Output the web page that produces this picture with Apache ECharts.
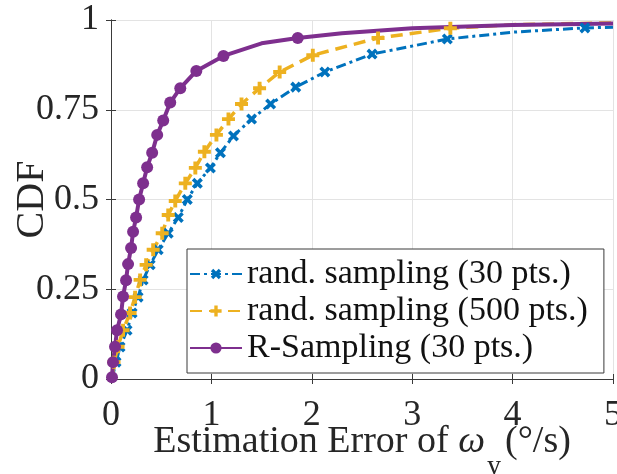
<!DOCTYPE html>
<html><head><meta charset="utf-8">
<script src="https://cdn.jsdelivr.net/npm/echarts@6/dist/echarts.min.js"></script>
<style>html,body{margin:0;padding:0;background:#fff}#c{width:617px;height:474px}</style>
</head><body><div id="c"></div>
<script>
// ---- data ----
const seriesNames = ['rand. sampling (30 pts.)', 'rand. sampling (500 pts.)', 'R-Sampling (30 pts.)'];
const xTickLabels = ['0', '1', '2', '3', '4', '5'];
const yTickLabels = ['0', '0.25', '0.5', '0.75', '1'];

// rand. sampling (30 pts.) — marked points
const rand30X = [0.05, 0.09, 0.16, 0.21, 0.27, 0.32, 0.39, 0.47, 0.57, 0.67, 0.76, 0.86, 0.99, 1.09, 1.22, 1.40, 1.59, 1.84, 2.13, 2.60, 3.35, 4.72];
const rand30Y = [0.047, 0.089, 0.136, 0.184, 0.228, 0.276, 0.318, 0.36, 0.406, 0.45, 0.50, 0.545, 0.588, 0.63, 0.677, 0.724, 0.766, 0.813, 0.855, 0.905, 0.947, 0.978];
// rand. sampling (30 pts.) — unmarked curve points
const rand30LineX = [0.01, 4.0, 5.0];
const rand30LineY = [0.0, 0.966, 0.98];

// rand. sampling (500 pts.) — marked points
const rand500X = [0.03, 0.07, 0.12, 0.19, 0.24, 0.29, 0.35, 0.42, 0.51, 0.57, 0.64, 0.74, 0.84, 0.93, 1.05, 1.17, 1.30, 1.48, 1.68, 2.01, 2.66, 3.38];
const rand500Y = [0.047, 0.09, 0.136, 0.184, 0.228, 0.276, 0.318, 0.36, 0.406, 0.457, 0.496, 0.545, 0.588, 0.633, 0.68, 0.724, 0.766, 0.81, 0.855, 0.902, 0.95, 0.977];
const rand500LineX = [0.01, 4.0, 5.0];
const rand500LineY = [0.0, 0.987, 0.992];

// R-Sampling (30 pts.) — marked points
const rsX = [0.01, 0.02, 0.04, 0.06, 0.10, 0.12, 0.15, 0.17, 0.20, 0.22, 0.25, 0.28, 0.32, 0.36, 0.41, 0.46, 0.52, 0.59, 0.69, 0.85, 1.12, 1.86];
const rsY = [0.005, 0.047, 0.09, 0.136, 0.18, 0.23, 0.275, 0.32, 0.365, 0.41, 0.45, 0.50, 0.545, 0.59, 0.63, 0.68, 0.72, 0.77, 0.81, 0.858, 0.90, 0.95];
const rsLineX = [1.5, 2.3, 3.0, 4.0, 5.0];
const rsLineY = [0.935, 0.963, 0.977, 0.986, 0.99];

// ---- build series data ----
function build(mx, my, lx, ly) {
  const pts = mx.map((x, i) => ({ x: x, v: { value: [x, my[i]] } }))
    .concat(lx.map((x, i) => ({ x: x, v: { value: [x, ly[i]], symbol: 'none' } })));
  pts.sort((a, b) => a.x - b.x);
  return pts.map(p => p.v);
}

const plusPath = 'path://M3.5,0H6.5V3.5H10V6.5H6.5V10H3.5V6.5H0V3.5H3.5Z';
const serif = 'Liberation Serif';
const txt = '#262626';

const chart = echarts.init(document.getElementById('c'), null, { renderer: 'canvas' });
chart.setOption({
  animation: false,
  backgroundColor: '#fff',
  grid: { left: 111, right: 4, top: 20, bottom: 95, containLabel: false, outerBoundsMode: 'none' },
  legend: {
    orient: 'vertical', left: 187, top: 249,
    itemWidth: 52, itemHeight: 14, itemGap: 3,
    padding: [8, 16, 8, 2],
    backgroundColor: '#fff', borderColor: '#3a3a3a', borderWidth: 1,
    textStyle: { fontFamily: serif, fontSize: 34, color: '#111' },
    data: seriesNames
  },
  xAxis: [{
    type: 'value', min: 0, max: 5, interval: 1,
    axisLine: { show: true, lineStyle: { color: '#3a3a3a', width: 1 } },
    axisTick: { show: true, inside: true, length: 5, lineStyle: { color: '#3a3a3a' } },
    splitLine: { show: true, lineStyle: { color: '#e3e3e3', width: 1 } },
    axisLabel: { fontFamily: serif, fontSize: 36, color: txt, margin: 19,
      formatter: v => xTickLabels[Math.round(v)] },
    name: '{t|Estimation Error of }{w|ω}{s|y}{t|(°/s)}',
    nameLocation: 'middle', nameGap: 44, nameMoveOverlap: false,
    nameTextStyle: {
      rich: {
        t: { fontFamily: serif, fontSize: 38, color: txt, verticalAlign: 'top' },
        w: { fontFamily: serif, fontSize: 38, color: txt, fontStyle: 'italic', verticalAlign: 'top' },
        s: { fontFamily: serif, fontSize: 28, color: txt, verticalAlign: 'top', padding: [30, 4, 0, 2] }
      }
    }
  }, {
    type: 'value', min: 0, max: 5, interval: 1, position: 'top',
    axisLine: { show: true, lineStyle: { color: '#3a3a3a', width: 1 } },
    axisTick: { show: true, inside: true, length: 5, lineStyle: { color: '#3a3a3a' } },
    axisLabel: { show: false }, splitLine: { show: false }
  }],
  yAxis: [{
    type: 'value', min: 0, max: 1, interval: 0.25,
    axisLine: { show: true, lineStyle: { color: '#3a3a3a', width: 1 } },
    axisTick: { show: true, inside: true, length: 5, lineStyle: { color: '#3a3a3a' } },
    splitLine: { show: true, lineStyle: { color: '#e3e3e3', width: 1 } },
    axisLabel: { fontFamily: serif, fontSize: 36, color: txt, margin: 12,
      formatter: v => yTickLabels[Math.round(v * 4)] },
    name: 'CDF', nameLocation: 'middle', nameGap: 59, nameMoveOverlap: false,
    nameTextStyle: { fontFamily: serif, fontSize: 40, color: txt }
  }, {
    type: 'value', min: 0, max: 1, interval: 0.25, position: 'right',
    axisLine: { show: true, lineStyle: { color: '#3a3a3a', width: 1 } },
    axisTick: { show: true, inside: true, length: 5, lineStyle: { color: '#3a3a3a' } },
    axisLabel: { show: false }, splitLine: { show: false }
  }],
  series: [{
    name: seriesNames[0], type: 'line', showAllSymbol: true,
    data: build(rand30X, rand30Y, rand30LineX, rand30LineY),
    symbol: plusPath, symbolRotate: 45, symbolSize: 12,
    itemStyle: { color: '#0072BD' },
    lineStyle: { color: '#0072BD', width: 3, type: [10, 4, 3, 4] }
  }, {
    name: seriesNames[1], type: 'line', showAllSymbol: true,
    data: build(rand500X, rand500Y, rand500LineX, rand500LineY),
    symbol: plusPath, symbolSize: 13,
    itemStyle: { color: '#EDB120' },
    lineStyle: { color: '#EDB120', width: 3.5, type: [12, 7] }
  }, {
    name: seriesNames[2], type: 'line', showAllSymbol: true,
    data: build(rsX, rsY, rsLineX, rsLineY),
    symbol: 'circle', symbolSize: 12,
    itemStyle: { color: '#7E2F8E' },
    lineStyle: { color: '#7E2F8E', width: 4 }
  }]
});
</script>
</body></html>
